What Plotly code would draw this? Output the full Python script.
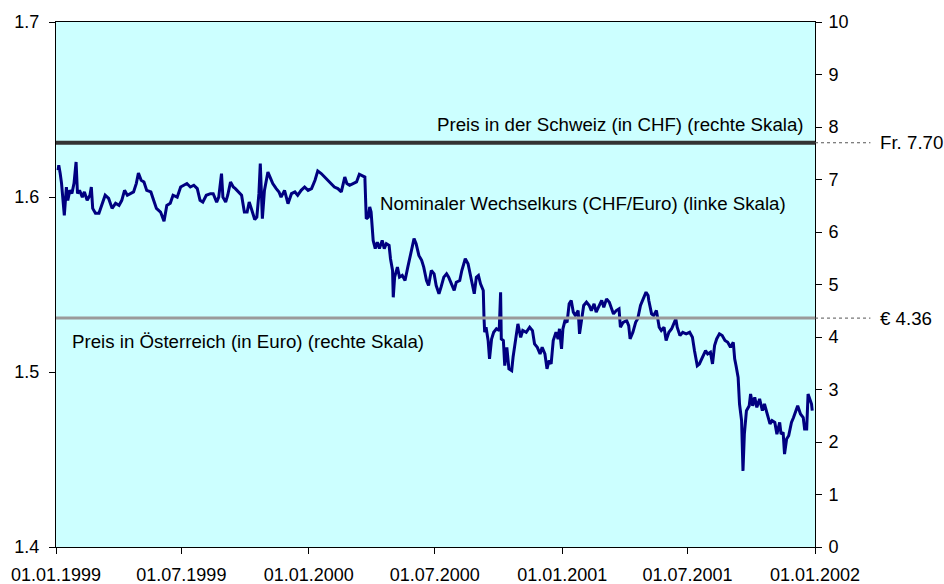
import plotly.graph_objects as go

# ---- data -------------------------------------------------------------
dates = [
    "1999-01-04","1999-01-05","1999-01-07","1999-01-09","1999-01-13","1999-01-16","1999-01-18","1999-01-21",
    "1999-01-24","1999-01-27","1999-01-30","1999-02-01","1999-02-04","1999-02-08","1999-02-11","1999-02-15",
    "1999-02-19","1999-02-21","1999-02-23","1999-02-27","1999-03-04","1999-03-08","1999-03-13","1999-03-18",
    "1999-03-23","1999-03-28","1999-04-02","1999-04-06","1999-04-10","1999-04-14","1999-04-18","1999-04-23",
    "1999-04-27","1999-04-30","1999-05-04","1999-05-08","1999-05-12","1999-05-18","1999-05-22","1999-05-26",
    "1999-06-01","1999-06-06","1999-06-10","1999-06-15","1999-06-19","1999-06-25","1999-06-30","1999-07-04",
    "1999-07-09","1999-07-14","1999-07-19","1999-07-24","1999-07-28","1999-08-01","1999-08-06","1999-08-12",
    "1999-08-16","1999-08-21","1999-08-24","1999-08-28","1999-08-30","1999-09-03","1999-09-06","1999-09-10",
    "1999-09-14","1999-09-17","1999-09-21","1999-09-26","1999-09-28","1999-09-30","1999-10-04","1999-10-07",
    "1999-10-10","1999-10-15","1999-10-18","1999-10-21","1999-10-23","1999-10-26","1999-10-29","1999-11-03",
    "1999-11-07","1999-11-10","1999-11-15","1999-11-19","1999-11-22","1999-11-27","1999-12-02","1999-12-07",
    "1999-12-12","1999-12-16","1999-12-21","1999-12-26","1999-12-31","2000-01-05","2000-01-10","2000-01-14",
    "2000-01-19","2000-01-24","2000-01-29","2000-02-03","2000-02-07","2000-02-12","2000-02-17","2000-02-22",
    "2000-02-25","2000-02-29","2000-03-05","2000-03-10","2000-03-14","2000-03-18","2000-03-22","2000-03-24",
    "2000-03-27","2000-03-29","2000-03-31","2000-04-03","2000-04-06","2000-04-09","2000-04-12","2000-04-16",
    "2000-04-19","2000-04-22","2000-04-26","2000-04-28","2000-05-01","2000-05-02","2000-05-04","2000-05-08",
    "2000-05-11","2000-05-15","2000-05-19","2000-05-23","2000-05-26","2000-05-29","2000-06-01","2000-06-04",
    "2000-06-08","2000-06-12","2000-06-15","2000-06-19","2000-06-22","2000-06-26","2000-06-30","2000-07-03",
    "2000-07-07","2000-07-10","2000-07-14","2000-07-18","2000-07-21","2000-07-25","2000-07-29","2000-08-01",
    "2000-08-06","2000-08-09","2000-08-14","2000-08-18","2000-08-20","2000-08-24","2000-08-27","2000-08-30",
    "2000-09-02","2000-09-05","2000-09-09","2000-09-10","2000-09-11","2000-09-13","2000-09-16","2000-09-18",
    "2000-09-21","2000-09-24","2000-09-28","2000-10-02","2000-10-04","2000-10-05","2000-10-08","2000-10-10",
    "2000-10-13","2000-10-16","2000-10-20","2000-10-22","2000-10-26","2000-10-29","2000-11-02","2000-11-05",
    "2000-11-10","2000-11-15","2000-11-19","2000-11-22","2000-11-26","2000-11-30","2000-12-03","2000-12-07",
    "2000-12-10","2000-12-13","2000-12-16","2000-12-19","2000-12-23","2000-12-26","2000-12-28","2000-12-31",
    "2001-01-02","2001-01-05","2001-01-08","2001-01-11","2001-01-14","2001-01-17","2001-01-20","2001-01-24",
    "2001-01-26","2001-01-29","2001-02-01","2001-02-05","2001-02-09","2001-02-12","2001-02-16","2001-02-19",
    "2001-02-23","2001-02-27","2001-03-02","2001-03-06","2001-03-10","2001-03-13","2001-03-16","2001-03-20",
    "2001-03-24","2001-03-26","2001-03-30","2001-04-04","2001-04-07","2001-04-09","2001-04-13","2001-04-17",
    "2001-04-20","2001-04-24","2001-04-28","2001-05-02","2001-05-05","2001-05-06","2001-05-10","2001-05-13",
    "2001-05-17","2001-05-21","2001-05-24","2001-05-28","2001-05-31","2001-06-04","2001-06-08","2001-06-11",
    "2001-06-14","2001-06-16","2001-06-20","2001-06-24","2001-06-29","2001-07-04","2001-07-08","2001-07-11",
    "2001-07-15","2001-07-18","2001-07-22","2001-07-27","2001-07-30","2001-08-03","2001-08-06","2001-08-09",
    "2001-08-12","2001-08-16","2001-08-20","2001-08-24","2001-08-28","2001-09-01","2001-09-05","2001-09-07",
    "2001-09-09","2001-09-12","2001-09-14","2001-09-17","2001-09-19","2001-09-21","2001-09-24","2001-09-28",
    "2001-09-30","2001-10-03","2001-10-06","2001-10-09","2001-10-13","2001-10-17","2001-10-20","2001-10-24",
    "2001-10-28","2001-10-31","2001-11-04","2001-11-07","2001-11-11","2001-11-13","2001-11-16","2001-11-18",
    "2001-11-21","2001-11-24","2001-11-28","2001-12-01","2001-12-05","2001-12-07","2001-12-11","2001-12-15",
    "2001-12-17","2001-12-20","2001-12-22","2001-12-24","2001-12-27","2001-12-28",
]
chf_eur = [
    1.6153,1.6181,1.6136,1.6078,1.5895,1.6057,1.5981,1.6038,
    1.6021,1.6078,1.6200,1.6021,1.6038,1.5999,1.6029,1.5981,
    1.6010,1.6057,1.5935,1.5907,1.5907,1.5952,1.6010,1.5992,
    1.5935,1.5964,1.5952,1.5981,1.6038,1.6010,1.6019,1.6029,
    1.6078,1.6137,1.6096,1.6086,1.6038,1.6029,1.5981,1.5935,
    1.5914,1.5862,1.5952,1.5964,1.6010,1.5999,1.6057,1.6067,
    1.6077,1.6057,1.6067,1.6048,1.5981,1.5971,1.6010,1.6019,
    1.6019,1.5971,1.5999,1.6134,1.5999,1.5971,1.6010,1.6086,
    1.6057,1.6048,1.6029,1.6010,1.5962,1.5914,1.5914,1.5971,
    1.5934,1.5871,1.5885,1.6019,1.6191,1.5876,1.6038,1.6143,
    1.6105,1.6077,1.6048,1.6029,1.5999,1.6038,1.5962,1.6019,
    1.6029,1.6010,1.6038,1.6057,1.6038,1.6048,1.6096,1.6149,
    1.6134,1.6114,1.6096,1.6077,1.6057,1.6048,1.6029,1.6114,
    1.6077,1.6067,1.6077,1.6086,1.6130,1.6124,1.6114,1.5876,
    1.5885,1.5943,1.5914,1.5752,1.5705,1.5742,1.5705,1.5752,
    1.5705,1.5733,1.5723,1.5647,1.5580,1.5427,1.5542,1.5599,
    1.5542,1.5552,1.5523,1.5599,1.5656,1.5714,1.5762,1.5733,
    1.5666,1.5638,1.5599,1.5523,1.5494,1.5580,1.5561,1.5494,
    1.5447,1.5485,1.5542,1.5561,1.5542,1.5504,1.5466,1.5513,
    1.5523,1.5580,1.5647,1.5619,1.5580,1.5485,1.5447,1.5542,
    1.5552,1.5504,1.5466,1.5313,1.5227,1.5256,1.5180,1.5075,
    1.5189,1.5227,1.5247,1.5237,1.5456,1.5189,1.5180,1.5036,
    1.5141,1.5018,1.5008,1.5084,1.5189,1.5275,1.5198,1.5237,
    1.5227,1.5256,1.5237,1.5161,1.5141,1.5103,1.5141,1.5103,
    1.5018,1.5065,1.5046,1.5180,1.5227,1.5189,1.5247,1.5132,
    1.5247,1.5294,1.5284,1.5390,1.5409,1.5342,1.5323,1.5351,
    1.5218,1.5313,1.5380,1.5399,1.5380,1.5351,1.5390,1.5342,
    1.5380,1.5409,1.5370,1.5418,1.5399,1.5370,1.5332,1.5351,
    1.5361,1.5256,1.5284,1.5294,1.5265,1.5189,1.5227,1.5284,
    1.5304,1.5380,1.5420,1.5456,1.5437,1.5409,1.5332,1.5323,
    1.5351,1.5256,1.5237,1.5256,1.5180,1.5227,1.5247,1.5275,
    1.5304,1.5256,1.5208,1.5227,1.5218,1.5227,1.5198,1.5122,
    1.5036,1.5046,1.5084,1.5122,1.5103,1.5113,1.5046,1.5151,
    1.5189,1.5218,1.5208,1.5180,1.5170,1.5141,1.5170,1.5075,
    1.5036,1.4969,1.4817,1.4722,1.4435,1.4645,1.4779,1.4807,
    1.4874,1.4807,1.4855,1.4798,1.4846,1.4779,1.4817,1.4760,
    1.4703,1.4722,1.4712,1.4645,1.4712,1.4645,1.4655,1.4531,
    1.4617,1.4636,1.4712,1.4740,1.4779,1.4807,1.4760,1.4740,
    1.4674,1.4674,1.4874,1.4846,1.4817,1.4779,
]

price_ch = 7.70   # Preis in der Schweiz (CHF)
price_at = 4.36   # Preis in Österreich (Euro)

x_start, x_end = "1999-01-01", "2002-01-01"
x_tickvals = ["1999-01-01", "1999-07-01", "2000-01-01", "2000-07-01",
              "2001-01-01", "2001-07-01", "2002-01-01"]
x_ticktext = ["01.01.1999", "01.07.1999", "01.01.2000", "01.07.2000",
              "01.01.2001", "01.07.2001", "01.01.2002"]
left_ticks = [1.4, 1.5, 1.6, 1.7]
right_ticks = list(range(0, 11))

# ---- figure -----------------------------------------------------------
FONT = "Liberation Sans, Arial, sans-serif"
FS_TICK = 18
FS_TEXT = 18.7

fig = go.Figure()

fig.add_trace(go.Scatter(
    x=[x_start, x_end], y=[price_ch, price_ch], yaxis="y2", mode="lines",
    line=dict(color="#333333", width=4), hoverinfo="skip", showlegend=False))
fig.add_trace(go.Scatter(
    x=[x_start, x_end], y=[price_at, price_at], yaxis="y2", mode="lines",
    line=dict(color="#9a9a9a", width=3), hoverinfo="skip", showlegend=False))
fig.add_trace(go.Scatter(
    x=dates, y=chf_eur, yaxis="y", mode="lines",
    line=dict(color="#000080", width=3), showlegend=False))

axis_common = dict(showgrid=False, zeroline=False, linecolor="black",
                   linewidth=1, tickcolor="black", ticklen=6, automargin=False,
                   tickfont=dict(family=FONT, size=FS_TICK, color="black"))

fig.update_layout(
    width=944, height=584,
    margin=dict(l=56, r=129, t=22, b=37, autoexpand=False),
    paper_bgcolor="white", plot_bgcolor="#CCFFFF",
    font=dict(family=FONT, size=FS_TEXT, color="black"),
    xaxis=dict(type="date", range=[x_start, x_end], tickvals=x_tickvals,
               ticktext=x_ticktext, ticks="outside", showline=True, mirror=True,
               ticklabelstandoff=5, **axis_common),
    yaxis=dict(range=[1.4, 1.7], tickvals=left_ticks,
               ticktext=[f"{v:.1f}" for v in left_ticks], ticks="outside",
               showline=True, ticklabelstandoff=6, **axis_common),
    yaxis2=dict(range=[0, 10], tickvals=right_ticks, overlaying="y", side="right",
                anchor="x", ticks="outside", showline=True, ticklabelstandoff=3,
                **axis_common),
    yaxis3=dict(range=[0, 10], tickvals=right_ticks, overlaying="y", side="right",
                anchor="x", ticks="inside", showline=False, showticklabels=False,
                showgrid=False, zeroline=False, tickcolor="black", ticklen=6,
                automargin=False),
)

# dashed extensions to the right of the plot area
for v in (price_ch, price_at):
    fig.add_shape(type="line", xref="paper", yref="y2", x0=1.0, x1=1.073,
                  y0=v, y1=v, line=dict(color="#555555", width=1, dash="3px,3px"))

fig.add_annotation(xref="paper", yref="y2", x=1.083, y=price_ch, xanchor="left",
                   yanchor="middle", showarrow=False, text=f"Fr. {price_ch:.2f}")
fig.add_annotation(xref="paper", yref="y2", x=1.083, y=price_at, xanchor="left",
                   yanchor="middle", showarrow=False, text=f"€ {price_at:.2f}")

fig.add_annotation(xref="paper", yref="y2", x=0.988, y=8.05, xanchor="right",
                   yanchor="middle", showarrow=False,
                   text="Preis in der Schweiz (in CHF) (rechte Skala)")
fig.add_annotation(xref="paper", yref="y", x=0.424, y=1.5964, xanchor="left",
                   yanchor="middle", showarrow=False,
                   text="Nominaler Wechselkurs (CHF/Euro) (linke Skala)")
fig.add_annotation(xref="paper", yref="y2", x=0.018, y=3.91, xanchor="left",
                   yanchor="middle", showarrow=False,
                   text="Preis in Österreich (in Euro) (rechte Skala)")

fig.write_html(
    "out.html",
    config={"displayModeBar": False},
    post_script="document.body.style.margin='0';document.body.style.overflow='hidden';",
)
